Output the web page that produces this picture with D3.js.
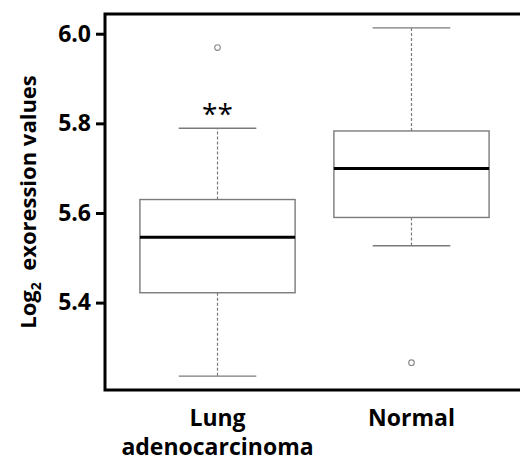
<!DOCTYPE html>
<html>
<head>
<meta charset="utf-8">
<script src="https://cdn.jsdelivr.net/npm/d3@7"></script>
<style>
  body { margin: 0; background: #fff; }
  text { font-family: "Open Sans", sans-serif; font-weight: bold; fill: #000; }
</style>
</head>
<body>
<svg id="chart" width="520" height="462"></svg>
<script>
// box stats
let groups = ["Lung\nadenocarcinoma", "Normal"]
let q1 = [5.422, 5.590]
let med = [5.546, 5.699]
let q3 = [5.630, 5.783]
let lowW = [5.236, 5.527]
let highW = [5.789, 6.013]
let outliers = [[5.969], [5.266]]
let yTicks = [5.4, 5.6, 5.8, 6.0]
let marks = ["**", ""]

let svg = d3.select("#chart")

let pLeft = 105, pRight = 524, pTop = 14, pBottom = 390

// R style axis extension (4%)
let x = d3.scaleLinear().domain([0.42, 2.58]).range([pLeft, pRight])
let y = d3.scaleLinear().domain([5.205, 6.044]).range([pBottom, pTop])

let boxHalf = 0.4 * (x(2) - x(1))
let capHalf = boxHalf / 2
let grey = "#7a7a7a"

let g = svg.append("g")

groups.forEach(function (name, i) {
  let cx = x(i + 1)

  // whiskers
  g.append("line")
    .attr("x1", cx).attr("x2", cx)
    .attr("y1", y(q3[i])).attr("y2", y(highW[i]))
    .attr("stroke", grey).attr("stroke-width", 1.2)
    .attr("stroke-dasharray", "3,2")
  g.append("line")
    .attr("x1", cx).attr("x2", cx)
    .attr("y1", y(q1[i])).attr("y2", y(lowW[i]))
    .attr("stroke", grey).attr("stroke-width", 1.2)
    .attr("stroke-dasharray", "3,2")

  // caps
  ;[highW[i], lowW[i]].forEach(function (v) {
    g.append("line")
      .attr("x1", cx - capHalf).attr("x2", cx + capHalf)
      .attr("y1", y(v)).attr("y2", y(v))
      .attr("stroke", grey).attr("stroke-width", 1.4)
  })

  // box
  g.append("rect")
    .attr("x", cx - boxHalf)
    .attr("y", y(q3[i]))
    .attr("width", boxHalf * 2)
    .attr("height", y(q1[i]) - y(q3[i]))
    .attr("fill", "#fff")
    .attr("stroke", grey).attr("stroke-width", 1.4)

  // median
  g.append("line")
    .attr("x1", cx - boxHalf).attr("x2", cx + boxHalf)
    .attr("y1", y(med[i])).attr("y2", y(med[i]))
    .attr("stroke", "#000").attr("stroke-width", 3)

  // outliers
  outliers[i].forEach(function (v) {
    g.append("circle")
      .attr("cx", cx).attr("cy", y(v)).attr("r", 2.8)
      .attr("fill", "none").attr("stroke", "#888").attr("stroke-width", 1.1)
  })

  // significance
  if (marks[i]) {
    svg.append("text")
      .attr("x", cx).attr("y", y(highW[i]) - 4)
      .attr("text-anchor", "middle")
      .style("font-size", "28px").style("font-weight", "normal")
      .text(marks[i])
  }

  // category label
  let lines = name.split("\n")
  let t = svg.append("text")
    .attr("text-anchor", "middle")
    .style("font-size", "23px")
  lines.forEach(function (l, k) {
    t.append("tspan").attr("x", cx).attr("y", 426 + k * 29).text(l)
  })
})

// frame
svg.append("rect")
  .attr("x", pLeft).attr("y", pTop)
  .attr("width", pRight - pLeft).attr("height", pBottom - pTop)
  .attr("fill", "none").attr("stroke", "#000").attr("stroke-width", 3)

// y axis
let yAxis = svg.append("g")
  .attr("transform", "translate(" + pLeft + ",0)")
  .call(d3.axisLeft(y).tickValues(yTicks).tickFormat(d3.format(".1f")).tickSize(9).tickPadding(5))
yAxis.select(".domain").remove()
yAxis.selectAll("line").attr("stroke", "#000").attr("stroke-width", 3)
yAxis.selectAll("text")
  .style("font-family", "'Open Sans', sans-serif")
  .style("font-weight", "bold")
  .style("font-size", "23px")
  .attr("fill", "#000")

// y label
let yl = svg.append("text")
  .attr("transform", "translate(36,202) rotate(-90)")
  .attr("text-anchor", "middle")
  .style("font-size", "22px")
yl.append("tspan").text("Log")
yl.append("tspan").attr("dy", 5).style("font-size", "14px").text("2")
yl.append("tspan").attr("dy", -5).text("\u00a0 exoression values")
</script>
</body>
</html>
